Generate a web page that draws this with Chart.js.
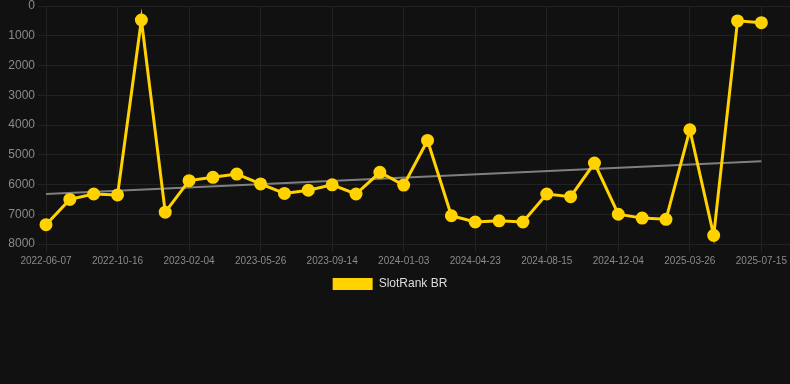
<!DOCTYPE html>
<html>
<head>
<meta charset="utf-8">
<script src="https://cdn.jsdelivr.net/npm/chart.js@4.4.0/dist/chart.umd.min.js"></script>
<style>
    html, body { margin: 0; padding: 0; background: #111111; }
    #chartContainer { width: 790px; height: 300px; }
</style>
</head>
<body>
<div id="chartContainer"><canvas id="chartCanvas"></canvas></div>
<script>
// dates of each sample (only every third one is shown on the axis)
const dates = [
    "2022-06-07", "2022-07-21", "2022-09-03", "2022-10-16", "2022-11-22", "2022-12-29",
    "2023-02-04", "2023-03-13", "2023-04-19", "2023-05-26", "2023-07-02", "2023-08-08",
    "2023-09-14", "2023-10-21", "2023-11-27", "2024-01-03", "2024-02-09", "2024-03-17",
    "2024-04-23", "2024-05-31", "2024-07-08", "2024-08-15", "2024-09-21", "2024-10-28",
    "2024-12-04", "2025-01-10", "2025-02-16", "2025-03-26", "2025-05-02", "2025-06-08",
    "2025-07-15"
];
const rankValues = [
    7350, 6500, 6320, 6350, 470, 6930, 5870, 5760, 5650, 5980, 6300, 6190,
    6010, 6320, 5590, 6020, 4520, 7050, 7260, 7220, 7260, 6320, 6410, 5280,
    7000, 7130, 7170, 4160, 7710, 500, 560
];
const trendEnds = [6320, 5220]; // trend line at first and last date
const yTicks = [0, 1000, 2000, 3000, 4000, 5000, 6000, 7000, 8000];

const rankPoints = rankValues.map((v, i) => ({ x: i, y: v }));
const trendPoints = [
    { x: 0, y: trendEnds[0] },
    { x: dates.length - 1, y: trendEnds[1] }
];

// nudge the legend a little to the left, like the original
const legendShift = {
    id: "legendShift",
    afterLayout(chart) {
        chart.legend.left -= 5;
        chart.legend.right -= 5;
    },
};

const ctx = document.getElementById("chartCanvas").getContext("2d");

new Chart(ctx, {
    type: "line",
    data: {
        datasets: [
            {
                label: "SlotRank BR",
                data: rankPoints,
                borderColor: "#FFD200",
                backgroundColor: "#FFD200",
                borderWidth: 3,
                pointRadius: 5,
                pointHoverRadius: 6,
                clip: false,
                order: 1,
            },
            {
                label: "trend",
                data: trendPoints,
                borderColor: "rgba(140, 140, 140, 0.9)",
                borderWidth: 2,
                pointRadius: 0,
                order: 2,
            },
        ],
    },
    plugins: [legendShift],
    options: {
        responsive: true,
        maintainAspectRatio: false,
        animation: false,
        layout: { autoPadding: false },
        plugins: {
            legend: {
                position: "bottom",
                labels: {
                    color: "#dddddd",
                    boxWidth: 40,
                    boxHeight: 12,
                    padding: 8,
                    font: { size: 12 },
                    filter: item => item.text !== "trend",
                    generateLabels: chart =>
                        Chart.defaults.plugins.legend.labels.generateLabels(chart)
                            .map(item => ({ ...item, lineWidth: 0 })),
                },
            },
            tooltip: { enabled: false },
        },
        scales: {
            x: {
                type: "linear",
                min: 0,
                max: 31.2,
                grid: { color: "#222222" },
                border: { display: false },
                afterBuildTicks: axis => {
                    axis.ticks = dates.map((d, i) => ({ value: i })).filter(t => t.value % 3 === 0);
                },
                ticks: {
                    color: "#8a8a8a",
                    font: { size: 10 },
                    maxRotation: 0,
                    autoSkip: false,
                    callback: value => dates[value] || "",
                },
            },
            y: {
                reverse: true,
                min: 0,
                max: 8000,
                grid: { color: "#222222" },
                border: { display: false },
                afterFit: axis => {
                    axis.width = 46;
                    axis.paddingTop = 6;
                },
                afterBuildTicks: axis => {
                    axis.ticks = yTicks.map(v => ({ value: v }));
                },
                ticks: {
                    color: "#8a8a8a",
                    font: { size: 12, lineHeight: 1 },
                    callback: value => String(value),
                },
            },
        },
    },
});
</script>
</body>
</html>
